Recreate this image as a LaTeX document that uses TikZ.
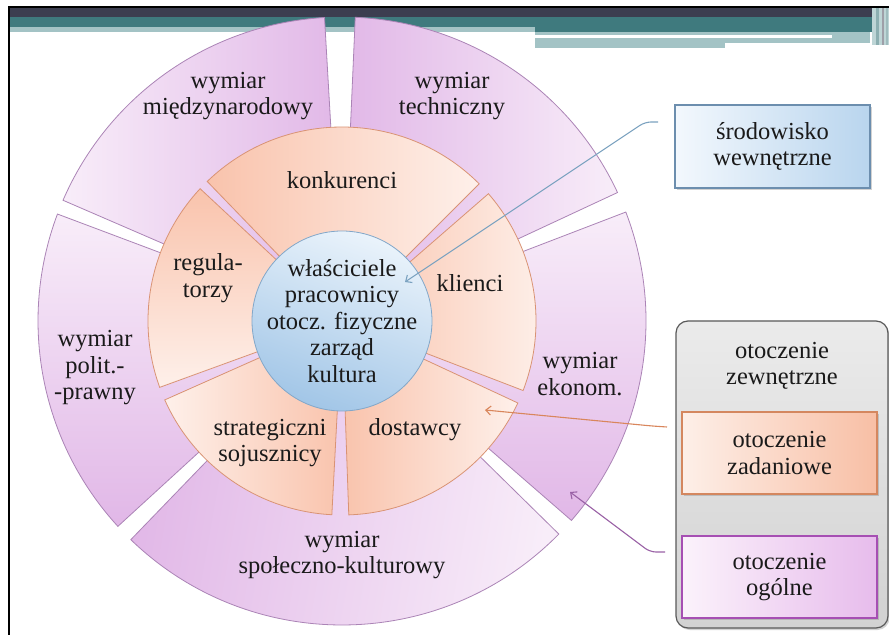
\documentclass[tikz,border=0pt]{standalone}
\usepackage{fontspec}
\setmainfont{Liberation Serif}
\usetikzlibrary{arrows.meta,shadows}
\definecolor{hdark}{HTML}{3C3E50}
\definecolor{hteal}{HTML}{3F7A7E}
\definecolor{hlight}{HTML}{A3C3C5}
\definecolor{pLight}{HTML}{F8EDF9}
\definecolor{pDark}{HTML}{E1B7E7}
\definecolor{pBorder}{HTML}{AB84B6}
\definecolor{oLight}{HTML}{FEF0EA}
\definecolor{oDark}{HTML}{F9C3AC}
\definecolor{oBorder}{HTML}{D99374}
\definecolor{bLight}{HTML}{EAF3FB}
\definecolor{bDark}{HTML}{A2C6E7}
\definecolor{bBorder}{HTML}{82A7C9}
\definecolor{txt}{HTML}{1A1A1A}
\definecolor{arrBlue}{HTML}{7BA2C0}
\definecolor{arrOrange}{HTML}{D9865C}
\definecolor{arrPurple}{HTML}{9A62A6}
\definecolor{srodL}{HTML}{F3F8FD}
\definecolor{srodR}{HTML}{B9D5EE}
\definecolor{srodB}{HTML}{6C8EAE}
\definecolor{greyT}{HTML}{EBEBEB}
\definecolor{greyB}{HTML}{D2D2D2}
\definecolor{greyBorder}{HTML}{5A5A5A}
\definecolor{zadL}{HTML}{FDEFE8}
\definecolor{zadR}{HTML}{F8BFA5}
\definecolor{zadB}{HTML}{D4875F}
\definecolor{ogL}{HTML}{FBF2FB}
\definecolor{ogR}{HTML}{E7BCEC}
\definecolor{ogB}{HTML}{A64FB3}
\begin{document}
\begin{tikzpicture}[x=1pt,y=1pt,
  pieslice/.style args={#1/#2/#3}{insert path={(342,314) -- ++(#1:#3) arc[start angle=#1,end angle=#2,radius=#3] -- cycle}},
  outerseg/.style={draw=pBorder, line width=0.8pt},
  innerseg/.style={draw=oBorder, line width=0.8pt},
  lbl/.style={align=center, inner sep=0pt, text=txt, font=\fontsize{24.5}{26.5}\selectfont},
  legbox/.style={rectangle, line width=1.2pt, minimum width=195pt, minimum height=82pt, inner sep=0pt,
     drop shadow={shadow xshift=1.5pt, shadow yshift=-2pt, opacity=0.35}},
  conn/.style={line width=1.1pt, rounded corners=6pt, -{Straight Barb[length=5pt,width=9pt]}}
]
\useasboundingbox (0,0) rectangle (889,635);
\fill[white] (0,0) rectangle (889,635);
% header
\fill[hdark] (9,618) rectangle (872,627.5);
\fill[hteal] (9,608) rectangle (872,618);
\fill[hteal] (535,603) rectangle (872,608);
\fill[hlight] (9,603) rectangle (535,608);
\fill[hlight] (535,592) rectangle (870,603);
\fill[hlight] (535,587) rectangle (725,597);
\fill[white] (535,597) rectangle (832,600);
\fill[hlight!70!white] (872,590) rectangle (889,627.5);
\fill[hteal!60!white] (876,590) rectangle (879,627.5);
\fill[hdark!50!white] (882,590) rectangle (884,627.5);
\fill[hteal!50!white] (886,590) rectangle (888,627.5);
\draw[black, line width=1.6pt] (9,628) -- (889,628);
\draw[black, line width=2.6pt] (9,628.8) -- (9,0);
% outer ring (general environment)
\shadedraw[outerseg, left color=pDark, right color=pLight, pieslice=25/87.5/304];
\shadedraw[outerseg, left color=pLight, right color=pDark, pieslice=93.3/156.6/304];
\shadedraw[outerseg, top color=pLight, bottom color=pDark, pieslice=159.4/222.5/304];
\shadedraw[outerseg, left color=pDark, right color=pLight, shading angle=80, pieslice=226/315.5/304];
\shadedraw[outerseg, top color=pLight, bottom color=pDark, pieslice=-41/21/304];
% inner ring (task environment)
\shadedraw[innerseg, left color=oDark, right color=oLight, pieslice=45/134/194];
\shadedraw[innerseg, top color=oDark, bottom color=oLight, pieslice=137/200/194];
\shadedraw[innerseg, left color=oLight, right color=oDark, pieslice=204/267/194];
\shadedraw[innerseg, left color=oDark, right color=oLight, pieslice=272/335/194];
\shadedraw[innerseg, left color=oDark, right color=oLight, pieslice=339/401/194];
% centre circle
\shadedraw[draw=bBorder, line width=0.8pt, top color=bLight, bottom color=bDark, shading angle=-20] (342,314) circle[radius=90];
% labels
\node[lbl] (tmn) at (228,539) {wymiar\\międzynarodowy};
\node[lbl] (ttech) at (452,539) {wymiar\\techniczny};
\node[lbl] (tkonk) at (342,455) {konkurenci};
\node[lbl] (treg) at (208,357) {regula-\\torzy};
\node[lbl] (tkli) at (470,352) {klienci};
\node[lbl] (tcenter) at (342,314) {właściciele\\pracownicy\\otocz. fizyczne\\zarząd\\kultura};
\node[lbl] (tpol) at (95,267) {wymiar\\polit.-\\-prawny};
\node[lbl] (teko) at (580,261) {wymiar\\ekonom.};
\node[lbl] (tstr) at (270,192) {strategiczni\\sojusznicy};
\node[lbl] (tdos) at (415,205) {dostawcy};
\node[lbl] (tspo) at (342,80) {wymiar\\społeczno-kulturowy};
% legend
\node[legbox, draw=srodB, left color=srodL, right color=srodR, minimum height=83pt, lbl] (srod) at (772.5,488.5) {środowisko\\wewnętrzne};
\node[rectangle, rounded corners=12pt, draw=greyBorder, line width=1.2pt, top color=greyT, bottom color=greyB,
      minimum width=212pt, minimum height=307pt, drop shadow={shadow xshift=1.5pt, shadow yshift=-2pt, opacity=0.35}] (grey) at (782,160.5) {};
\node[lbl] (tzew) at (782,269) {otoczenie\\zewnętrzne};
\node[legbox, draw=zadB, left color=zadL, right color=zadR, lbl] (zad) at (779.5,182) {otoczenie\\zadaniowe};
\node[legbox, draw=ogB, left color=ogL, right color=ogR, lbl] (og) at (779.5,58) {otoczenie\\ogólne};
% connectors
\coordinate (bs) at (658,513);
\coordinate (be) at (405,353);
\coordinate (os) at (667,208);
\coordinate (oe) at (485,225);
\coordinate (ps) at (665,83);
\coordinate (pe) at (570,143);
\draw[conn, arrBlue] (bs) -- ++(-13,0) -- (be);
\draw[conn, arrOrange] (os) -- ++(-15,1) -- (oe);
\draw[conn, arrPurple] (ps) -- ++(-15,0) -- (pe);
\end{tikzpicture}
\end{document}
